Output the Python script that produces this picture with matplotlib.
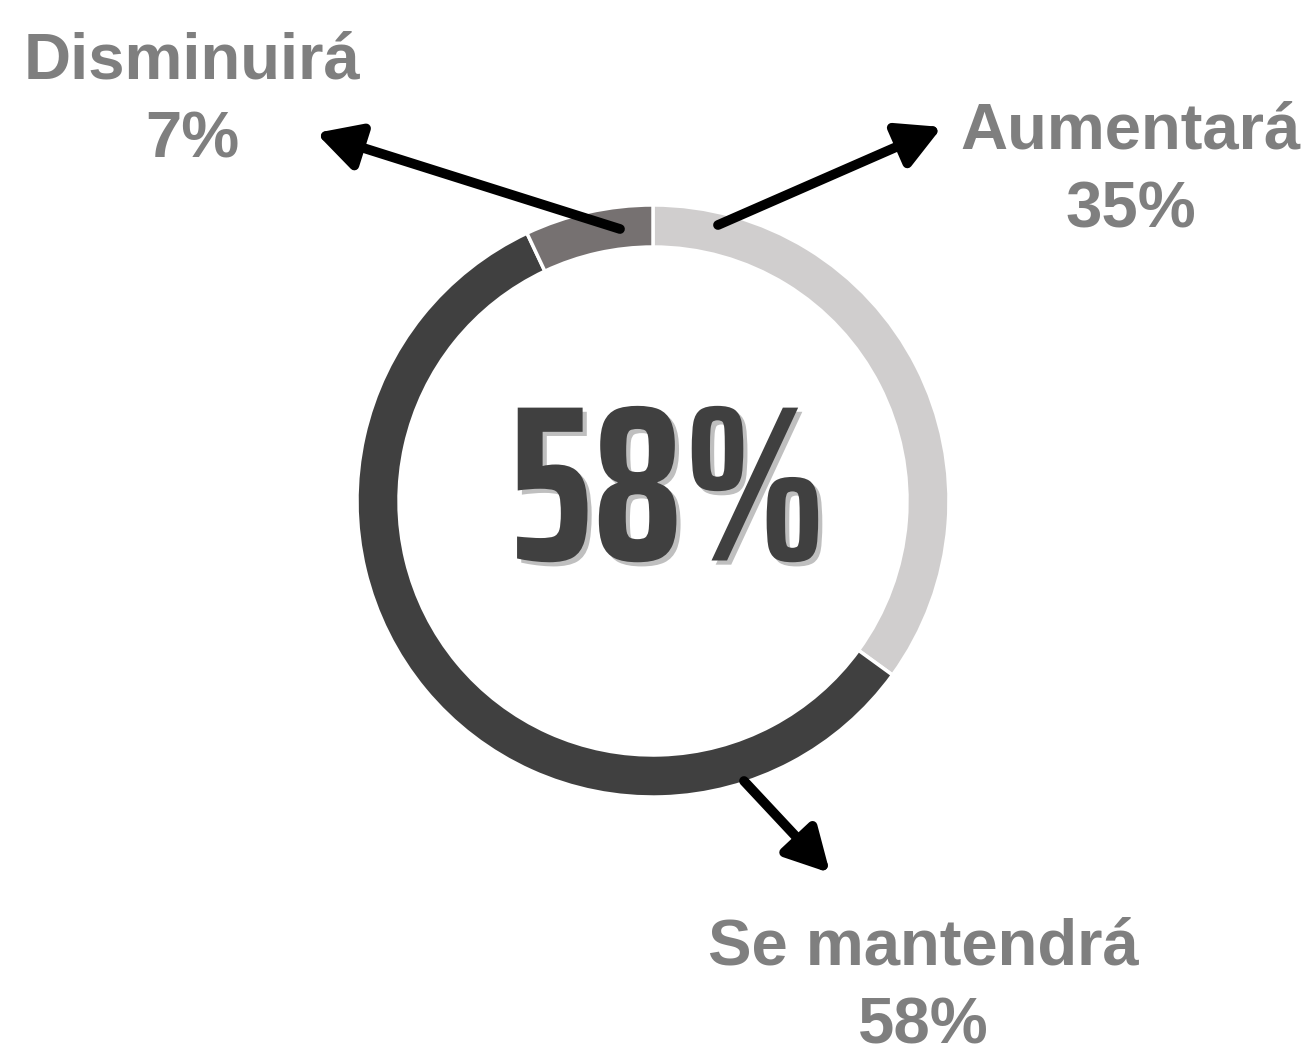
import matplotlib.pyplot as plt
import matplotlib.patheffects as pe

# data
categories = ['Aumentará', 'Se mantendrá', 'Disminuirá']
values = [35, 58, 7]
colors = ['#D0CECE', '#404040', '#767171']
highlight = '58%'

W, H = 1314, 1044


def py(y):
    # pixel row (from top) -> data y
    return H - y


fig = plt.figure(figsize=(W / 100, H / 100), dpi=100)
ax = fig.add_axes([0, 0, 1, 1])

ax.pie(
    values,
    colors=colors,
    startangle=90,
    counterclock=False,
    center=(653, py(501)),
    radius=296,
    wedgeprops=dict(width=42, edgecolor='white', linewidth=2.5),
    frame=True,
)
ax.set_xlim(0, W)
ax.set_ylim(0, H)
ax.set_aspect('equal')
ax.axis('off')

# big number in the middle
ax.text(
    668, py(500), highlight,
    ha='center', va='center',
    fontsize=160, fontweight='bold', color='#404040',
    family=['Saira ExtraCondensed', 'Roboto Condensed', 'DejaVu Sans'],
    path_effects=[pe.SimplePatchShadow(offset=(3, -3), shadow_rgbFace='#808080', alpha=0.5),
                  pe.Normal()],
)

# labels + arrows
label_style = dict(ha='center', va='baseline', fontsize=47, fontweight='bold',
                   color='#7F7F7F', family=['Liberation Sans', 'DejaVu Sans'],
                   linespacing=1.4)
arrow_style = dict(arrowstyle='-|>,head_length=1.3,head_width=0.7', mutation_scale=20,
                   lw=7, color='black', shrinkA=0, shrinkB=0)

labels = [f'{c}\n{v}%' for c, v in zip(categories, values)]

ax.text(1131, py(227), labels[0], **label_style)
ax.annotate('', xy=(942, py(127)), xytext=(718, py(225)), arrowprops=arrow_style)

ax.text(923, py(1043), labels[1], **label_style)
ax.annotate('', xy=(830, py(873)), xytext=(744, py(781)), arrowprops=arrow_style)

ax.text(192, py(157), labels[2], **label_style)
ax.annotate('', xy=(316, py(133)), xytext=(620, py(229)), arrowprops=arrow_style)

fig.savefig('out.png', dpi=100)
